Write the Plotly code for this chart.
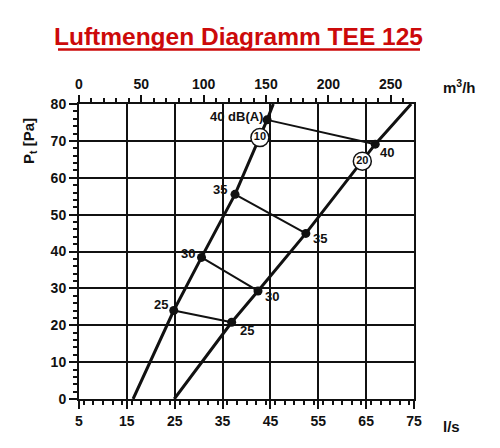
import plotly.graph_objects as go

# ---- data ----
curve_left_x = [16.3, 24.8, 30.6, 37.6, 44.3, 45.6]
curve_left_y = [0.0, 24.0, 38.4, 55.5, 75.7, 80.0]
curve_right_x = [24.9, 36.9, 42.4, 52.4, 66.9, 74.4]
curve_right_y = [0.0, 20.8, 29.3, 44.9, 69.1, 80.0]

db_levels = [25, 30, 35, 40]
db_left_x = [24.8, 30.6, 37.6, 44.3]
db_left_y = [24.0, 38.4, 55.5, 75.7]
db_right_x = [36.9, 42.4, 52.4, 66.9]
db_right_y = [20.8, 29.3, 44.9, 69.1]
db_left_text = ["25", "30", "35", "40 dB(A)"]
db_right_text = ["25", "30", "35", "40"]

curve_names = ["10", "20"]
curve_name_x = [42.8, 64.2]
curve_name_y = [70.9, 64.5]

x_ticks = [5, 15, 25, 35, 45, 55, 65, 75]
y_ticks = [0, 10, 20, 30, 40, 50, 60, 70, 80]
top_ticks = [0, 50, 100, 150, 200, 250]

FONT = "Liberation Sans, Arial, sans-serif"
BLACK = "#111111"
RED = "#cc0a0a"

fig = go.Figure()

# curves
fig.add_trace(go.Scatter(x=curve_left_x, y=curve_left_y, mode="lines",
                         line=dict(color=BLACK, width=3), hoverinfo="skip"))
fig.add_trace(go.Scatter(x=curve_right_x, y=curve_right_y, mode="lines",
                         line=dict(color=BLACK, width=3), hoverinfo="skip"))

# connecting lines between equal dB points
cx, cy = [], []
for lx, ly, rx, ry in zip(db_left_x, db_left_y, db_right_x, db_right_y):
    cx += [lx, rx, None]
    cy += [ly, ry, None]
fig.add_trace(go.Scatter(x=cx, y=cy, mode="lines",
                         line=dict(color=BLACK, width=2), hoverinfo="skip"))

# dots
fig.add_trace(go.Scatter(x=db_left_x + db_right_x, y=db_left_y + db_right_y,
                         mode="markers", marker=dict(color=BLACK, size=9),
                         hoverinfo="skip"))

# circled curve names
fig.add_trace(go.Scatter(x=curve_name_x, y=curve_name_y, mode="markers+text",
                         text=curve_names, textposition="middle center",
                         textfont=dict(family=FONT, size=11, color=BLACK,
                                       weight=700),
                         marker=dict(color="white", size=18,
                                     line=dict(color=BLACK, width=1.5)),
                         hoverinfo="skip"))

# invisible trace for top axis
fig.add_trace(go.Scatter(x=[0, 268.7], y=[0, 0], xaxis="x2", mode="markers",
                         marker=dict(opacity=0), hoverinfo="skip"))

# dB labels
left_shift = [(-4, 6), (-5, 4), (-6, 5), (-2, 3)]
right_shift = [(6, -8), (5, -6), (5, -5), (3, -8)]
for x, y, t, (sx, sy) in zip(db_left_x, db_left_y, db_left_text, left_shift):
    fig.add_annotation(x=x, y=y, text=t, showarrow=False, xanchor="right",
                       yanchor="middle", xshift=sx, yshift=sy,
                       font=dict(family=FONT, size=13, color=BLACK, weight=700))
for x, y, t, (sx, sy) in zip(db_right_x, db_right_y, db_right_text, right_shift):
    fig.add_annotation(x=x, y=y, text=t, showarrow=False, xanchor="left",
                       yanchor="middle", xshift=sx, yshift=sy,
                       font=dict(family=FONT, size=13, color=BLACK, weight=700))

# title + underline
fig.add_annotation(xref="paper", yref="paper", x=0.4776, y=1.2305,
                   text="Luftmengen Diagramm TEE 125", showarrow=False,
                   xanchor="center", yanchor="middle",
                   font=dict(family=FONT, size=24.5, color=RED, weight=700))
fig.add_shape(type="line", xref="paper", yref="paper", x0=-0.0627, x1=1.0179,
              y0=1.1847, y1=1.1847, line=dict(color=RED, width=2.5))

# axis titles
fig.add_annotation(xref="paper", yref="paper", x=-0.1463, y=0.8746,
                   text="P<sub>t</sub> [Pa]", showarrow=False, textangle=-90,
                   xanchor="center", yanchor="middle",
                   font=dict(family=FONT, size=15, color=BLACK, weight=700))
fig.add_annotation(xref="paper", yref="paper", x=1.137, y=1.061,
                   text="m<sup>3</sup>/h", showarrow=False,
                   xanchor="center", yanchor="middle",
                   font=dict(family=FONT, size=15, color=BLACK, weight=700))
fig.add_annotation(xref="paper", yref="paper", x=1.113, y=-0.0949,
                   text="l/s", showarrow=False,
                   xanchor="center", yanchor="middle",
                   font=dict(family=FONT, size=15, color=BLACK, weight=700))

tickfont = dict(family=FONT, size=14, color=BLACK, weight=700)

# the page body has an 8px default margin; size the figure to compensate
fig.update_layout(
    width=492, height=440,
    margin=dict(l=71, r=86, t=96, b=49),
    paper_bgcolor="white", plot_bgcolor="white",
    showlegend=False,
    xaxis=dict(range=[5, 75], tickvals=x_ticks, ticks="outside", ticklen=8,
               tickwidth=2, tickcolor=BLACK,
               showgrid=True, gridcolor=BLACK, gridwidth=2,
               showline=True, linecolor=BLACK, linewidth=2, mirror=True,
               zeroline=False, tickfont=tickfont,
               minor=dict(dtick=2, ticks="outside", ticklen=4, tickwidth=1.5,
                          tickcolor=BLACK, showgrid=False)),
    xaxis2=dict(range=[0, 268.7], overlaying="x", side="top", anchor="y",
                tickvals=top_ticks, ticks="outside", ticklen=7, tickwidth=2,
                tickcolor=BLACK, showgrid=False, showline=True,
                linecolor=BLACK, linewidth=2, zeroline=False,
                tickfont=tickfont,
                minor=dict(dtick=10, ticks="outside", ticklen=4,
                           tickwidth=1.5, tickcolor=BLACK, showgrid=False)),
    yaxis=dict(range=[0, 80], tickvals=y_ticks, ticks="outside", ticklen=8,
               tickwidth=2, tickcolor=BLACK,
               showgrid=True, gridcolor=BLACK, gridwidth=2,
               showline=True, linecolor=BLACK, linewidth=2, mirror=True,
               zeroline=False, tickfont=tickfont,
               minor=dict(dtick=2, ticks="outside", ticklen=4, tickwidth=1.5,
                          tickcolor=BLACK, showgrid=False)),
)

fig.write_html("out.html")
